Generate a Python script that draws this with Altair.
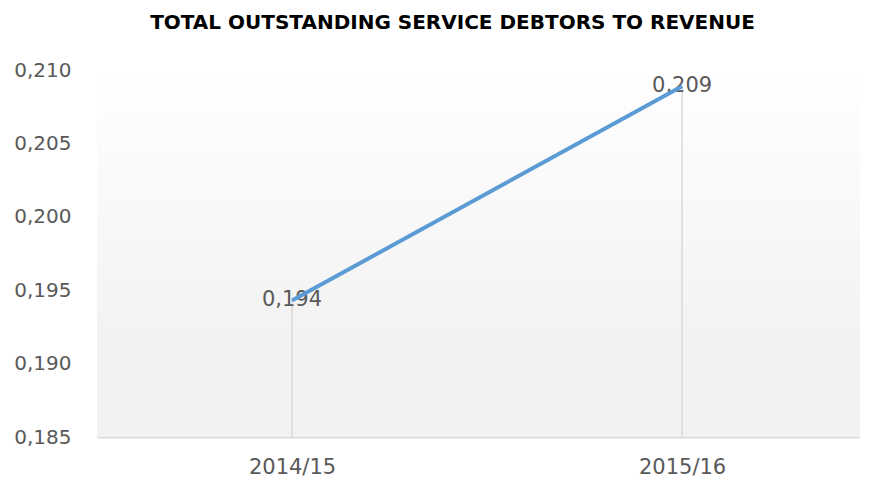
import altair as alt
import pandas as pd

years = ["2014/15", "2015/16"]
values = [0.1943, 0.2089]
title_text = "TOTAL OUTSTANDING SERVICE DEBTORS TO REVENUE"

df = pd.DataFrame({"year": years, "value": values})

W, H = 763, 367
FONT = "DejaVu Sans"
GREY = "#595959"

x_scale = alt.Scale(type="point", padding=0.478, align=0.523)
x_enc = alt.X("year:N", sort=years, title=None, scale=x_scale,
              axis=alt.Axis(labelAngle=0, labelFontSize=21, labelColor=GREY, labelFont=FONT,
                            ticks=False, domainColor="#d9d9d9", domainWidth=2, labelPadding=19,
                            grid=False))
y_scale = alt.Scale(domain=[0.185, 0.210], nice=False, zero=False)

bg = alt.Chart(df).mark_rect(
    fill=alt.Gradient(gradient="linear", x1=0, y1=0, x2=0, y2=1,
                      stops=[alt.GradientStop(color="#ffffff", offset=0),
                             alt.GradientStop(color="#f2f2f2", offset=0.75),
                             alt.GradientStop(color="#f2f2f2", offset=1)])
).encode(x=alt.value(0), x2=alt.value(W), y=alt.value(0), y2=alt.value(H))

base = alt.Chart(df)

drops = base.mark_rule(color="#d9d9d9", strokeWidth=1.5).encode(
    x=x_enc,
    y=alt.Y("value:Q", scale=y_scale, title=None,
            axis=alt.Axis(values=[0.185, 0.19, 0.195, 0.2, 0.205, 0.21],
                          labelExpr="replace(format(datum.value, '.3f'), '.', ',')",
                          labelFontSize=20, labelColor=GREY, labelFont=FONT,
                          ticks=False, domain=False, grid=False, labelPadding=26)),
    y2=alt.value(H),
)

labels = base.transform_calculate(
    lbl="replace(format(datum.value, '.3f'), '.', ',')"
).mark_text(fontSize=21, color=GREY, font=FONT, align="center", baseline="middle").encode(
    x=alt.X("year:N", sort=years, scale=x_scale), y=alt.Y("value:Q", scale=y_scale), text="lbl:N"
)

line = base.mark_line(color="#5b9bd5", strokeWidth=4).encode(
    x=alt.X("year:N", sort=years, scale=x_scale), y=alt.Y("value:Q", scale=y_scale)
)

chart = alt.layer(bg, drops, labels, line).properties(
    width=W, height=H,
    padding={"left": 5, "top": 5, "right": 0, "bottom": 0},
    title=alt.TitleParams(title_text, fontSize=20, fontWeight="bold", font=FONT, color="#000000",
                          anchor="middle", dx=-26, offset=27),
).configure_view(stroke=None)

chart.save("out.html", embed_options={"renderer": "svg", "actions": False})
